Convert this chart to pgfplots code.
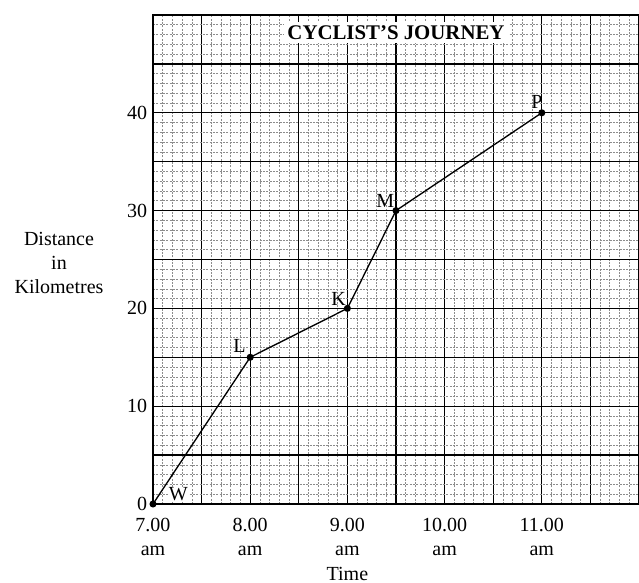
\documentclass[border=0pt]{standalone}
\usepackage{fontspec}
\setmainfont{Liberation Serif}
\usepackage{pgfplots}
\pgfplotsset{compat=1.18}

\begin{document}
\begin{tikzpicture}[font=\fontsize{12}{14.4}\selectfont]
\begin{axis}[
  scale only axis,
  width=291.6pt,
  height=293.4pt,
  xmin=7, xmax=12,
  ymin=0, ymax=50,
  xtick={7,7.5,...,12},
  xticklabels={{7.00\\am},,{8.00\\am},,{9.00\\am},,{10.00\\am},,{11.00\\am},,},
  ytick={0,5,...,50},
  yticklabels={0,,10,,20,,30,,40,,},
  minor tick num=4,
  grid=both,
  major grid style={black, line width=0.8pt},
  minor grid style={black!45, dash pattern=on 1.2pt off 0.8pt, line width=0.4pt},
  major tick length=0pt,
  minor tick length=0pt,
  axis line style={line width=1.2pt},
  tick label style={font=\fontsize{12}{14.4}\selectfont},
  xticklabel style={align=center, yshift=-4.8pt},
  /pgf/number format/assume math mode=true,
  xlabel={Time},
  xlabel style={at={(ticklabel cs:0.4)}, anchor=north},
  ylabel={Distance\\in\\Kilometres},
  ylabel style={rotate=-90, align=center, at={(axis description cs:0,0.493)}, anchor=center, xshift=-56.4pt},
  clip=false,
]
\addplot[black, line width=0.8pt, mark=*, mark size=1.7pt]
  coordinates {(7,0) (8,15) (9,20) (9.5,30) (11,40)};
\node[fill=white, inner sep=2pt, font=\bfseries\fontsize{12.5}{15}\selectfont] at (axis cs:9.5,48.2) {CYCLIST'S JOURNEY};
\node[fill=white, inner sep=0.5pt] at (axis cs:7.26,1.0) {W};
\node at (axis cs:7.89,16.2) {L};
\node at (axis cs:8.91,21.0) {K};
\node at (axis cs:9.39,31.0) {M};
\node at (axis cs:10.95,41.1) {P};
\end{axis}
\pgfresetboundingbox
\path (-91.8pt,-47.4pt) rectangle (291.6pt,302.4pt);
\end{tikzpicture}
\end{document}
